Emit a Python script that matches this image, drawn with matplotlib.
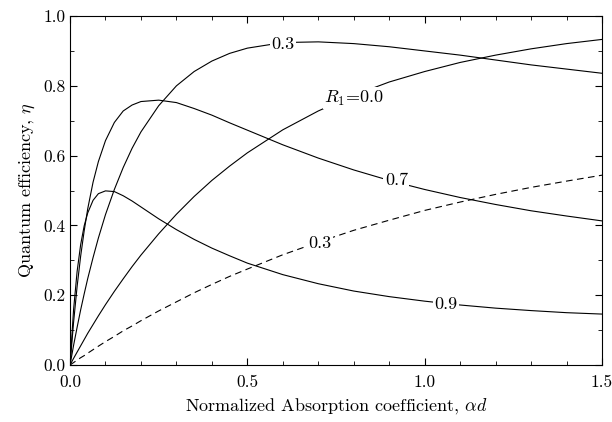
import matplotlib.pyplot as plt
from matplotlib.ticker import MultipleLocator

plt.rcParams['font.family'] = 'serif'
plt.rcParams['font.serif'] = ['cmr10', 'DejaVu Serif']
plt.rcParams['mathtext.fontset'] = 'cm'
plt.rcParams['axes.formatter.use_mathtext'] = True

# normalized absorption coefficient, alpha*d
alpha_d = [0.0, 0.01, 0.02, 0.03, 0.04, 0.05, 0.065, 0.08, 0.1, 0.125, 0.15, 0.175,
           0.2, 0.25, 0.3, 0.35, 0.4, 0.45, 0.5, 0.6, 0.7, 0.8, 0.9, 1.0,
           1.1, 1.2, 1.3, 1.4, 1.5]

# quantum efficiency, one list per R1
eta_r00 = [0.0, 0.019, 0.037, 0.055, 0.073, 0.091, 0.116, 0.141, 0.173, 0.211, 0.247, 0.282,
           0.315, 0.376, 0.432, 0.483, 0.529, 0.570, 0.608, 0.674, 0.728, 0.773, 0.811, 0.841,
           0.867, 0.888, 0.906, 0.921, 0.933]
eta_r03 = [0.0, 0.056, 0.108, 0.158, 0.204, 0.248, 0.308, 0.364, 0.431, 0.503, 0.566, 0.621,
           0.668, 0.743, 0.800, 0.841, 0.871, 0.893, 0.908, 0.924, 0.926, 0.921, 0.912, 0.900,
           0.888, 0.874, 0.860, 0.848, 0.836]
eta_r07 = [0.0, 0.122, 0.225, 0.312, 0.385, 0.448, 0.524, 0.583, 0.643, 0.695, 0.728, 0.745,
           0.755, 0.759, 0.752, 0.735, 0.716, 0.694, 0.673, 0.631, 0.593, 0.559, 0.529, 0.503,
           0.480, 0.460, 0.442, 0.427, 0.413]
eta_r09 = [0.0, 0.158, 0.268, 0.345, 0.399, 0.436, 0.472, 0.491, 0.499, 0.497, 0.485, 0.470,
           0.453, 0.419, 0.388, 0.360, 0.335, 0.313, 0.292, 0.259, 0.233, 0.212, 0.196, 0.183,
           0.172, 0.163, 0.156, 0.150, 0.146]
# conventional detector (no back mirror), R1 = 0.3
eta_conv = [0.0, 0.007, 0.014, 0.021, 0.027, 0.034, 0.044, 0.054, 0.067, 0.082, 0.098, 0.112,
            0.127, 0.155, 0.181, 0.207, 0.231, 0.254, 0.275, 0.316, 0.352, 0.386, 0.415, 0.443,
            0.467, 0.489, 0.509, 0.527, 0.544]

fig = plt.figure(figsize=(6.12, 4.22), dpi=100)
ax = fig.add_axes([0.1144, 0.135, 0.8693, 0.827])

lw = 0.8
ax.plot(alpha_d, eta_r00, color='black', lw=lw)
ax.plot(alpha_d, eta_r03, color='black', lw=lw)
ax.plot(alpha_d, eta_r07, color='black', lw=lw)
ax.plot(alpha_d, eta_r09, color='black', lw=lw)
ax.plot(alpha_d, eta_conv, color='black', lw=lw, dashes=(6, 4))

# curve labels sit on the lines
fs = 13
box = dict(facecolor='white', edgecolor='none', pad=1)
ax.text(0.60, 0.918, '0.3', fontsize=fs, ha='center', va='center', bbox=box)
ax.text(0.80, 0.765, r'$R_1$=0.0', fontsize=fs, ha='center', va='center', bbox=box)
ax.text(0.92, 0.53, '0.7', fontsize=fs, ha='center', va='center', bbox=box)
ax.text(0.705, 0.35, '0.3', fontsize=fs, ha='center', va='center', bbox=box)
ax.text(1.06, 0.175, '0.9', fontsize=fs, ha='center', va='center', bbox=box)

ax.set_xlim(0, 1.5)
ax.set_ylim(0, 1.0)
ax.xaxis.set_major_locator(MultipleLocator(0.5))
ax.xaxis.set_minor_locator(MultipleLocator(0.1))
ax.yaxis.set_major_locator(MultipleLocator(0.2))
ax.yaxis.set_minor_locator(MultipleLocator(0.1))
ax.xaxis.set_major_formatter(plt.FormatStrFormatter('%.1f'))
ax.yaxis.set_major_formatter(plt.FormatStrFormatter('%.1f'))
ax.tick_params(which='both', direction='in', top=True, right=True, labelsize=12.5)
ax.tick_params(which='major', length=5)
ax.tick_params(which='minor', length=3)
ax.tick_params(axis='x', pad=7)

ax.set_xlabel(r'Normalized Absorption coefficient, $\alpha d$', fontsize=fs, labelpad=4)
ax.set_ylabel(r'Quantum efficiency, $\eta$', fontsize=fs, labelpad=4)

fig.savefig('out.png', dpi=100)
